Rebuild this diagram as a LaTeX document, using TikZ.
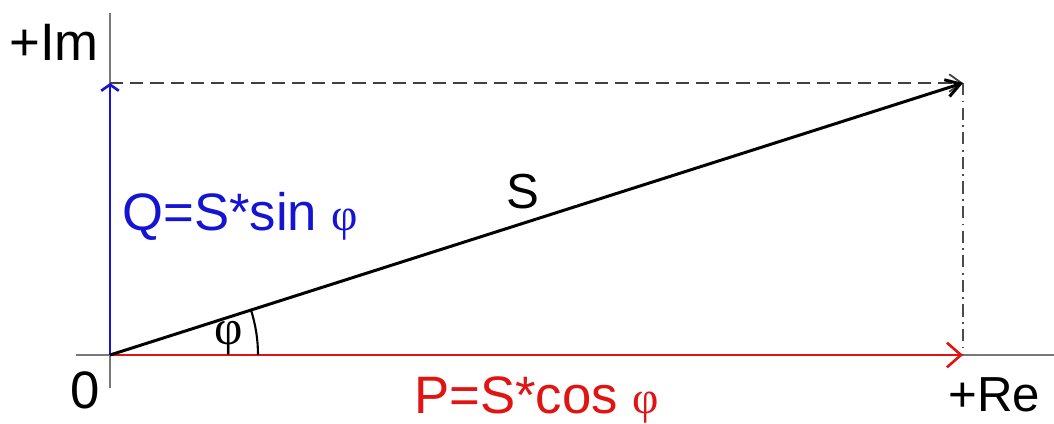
\documentclass[tikz,border=0pt]{standalone}
\usepackage{fontspec}
\setmainfont{Liberation Sans}
\newfontfamily\phifont{Liberation Serif}
\usetikzlibrary{arrows.meta}
\definecolor{axgray}{RGB}{120,120,120}
\definecolor{qblue}{RGB}{20,20,210}
\definecolor{pred}{RGB}{225,20,20}
\tikzset{
  axis/.style={draw=axgray,line width=0.9pt},
  lbl/.style={inner sep=0pt,anchor=base west,font=\fontsize{30}{32}\selectfont},
  vec/.style={line width=1.5pt}
}
\begin{document}
\begin{tikzpicture}[x=0.02cm,y=-0.02cm]
\useasboundingbox (0,0) rectangle (1054,423);
% key points
\coordinate (O) at (110,355);
\coordinate (T) at (110,83);
\coordinate (E) at (963,83);
\coordinate (R) at (963,355);
\coordinate (Ytop) at (110,13);
\coordinate (Ybot) at (110,388);
\coordinate (Xl) at (76,355);
\coordinate (Xr) at (1054,355);
\coordinate (A) at (258,355);
% axes
\draw[axis] (Ybot) -- (Ytop);
\draw[axis] (Xl) -- (Xr);
% dashed helper lines
\draw[line width=1pt,black!75,dash pattern=on 7.5pt off 4pt,-{Straight Barb[length=7pt,width=10pt]}] (T) -- (E);
\draw[line width=0.9pt,black!70,dash pattern=on 7pt off 3pt on 1pt off 3pt] (E) -- (R);
% vectors
\draw[vec,pred,-{Straight Barb[length=8pt,width=14pt]}] (O) -- (R);
\draw[vec,qblue,-{Straight Barb[length=3.5pt,width=10pt]}] (O) -- (T);
\draw[vec,black,line width=1.7pt,-{Straight Barb[length=8pt,width=10pt]}] (O) -- (E);
% angle arc
\draw[line width=1.2pt] (A) arc[start angle=0,end angle=17.7,radius=2.96cm];
% labels
\node[lbl] (im) at (9,60) {+Im};
\node[lbl] (zero) at (70,408) {0};
\node[lbl,font=\fontsize{28}{30}\selectfont] (re) at (948,411) {+Re};
\node[lbl,qblue] (q) at (122,230) {Q=S*sin {\phifont\fontsize{26}{28}\selectfont φ}};
\node[lbl,pred] (p) at (414,413) {P=S*cos {\phifont\fontsize{26}{28}\selectfont φ}};
\node[lbl,font=\fontsize{28}{30}\selectfont] (s) at (506,208) {S};
\node[inner sep=0pt,font=\phifont\fontsize{28}{30}\selectfont] (phi) at (229,338) {φ};
\end{tikzpicture}
\end{document}
